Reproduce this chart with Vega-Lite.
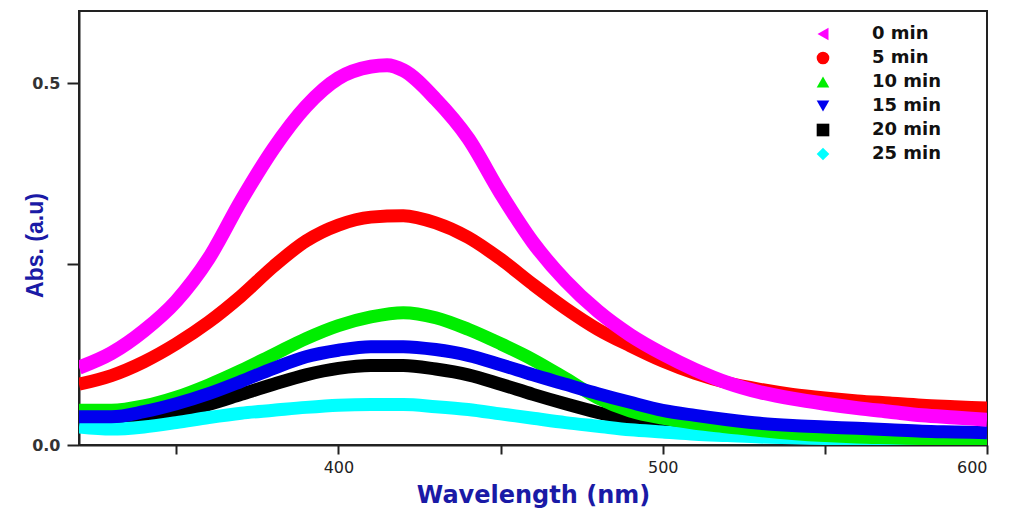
{
  "$schema": "https://vega.github.io/schema/vega-lite/v6.json",
  "width": 908,
  "height": 434,
  "autosize": {"type": "none"},
  "padding": {"left": 79, "top": 11, "right": 22, "bottom": 65},
  "background": "white",
  "config": {
    "view": {"stroke": "#222", "strokeWidth": 2},
    "axis": {"grid": false}
  },
  "datasets": {
    "spectra": [
      {"s":"25 min","x":320,"y":0.025},{"s":"25 min","x":330,"y":0.022},{"s":"25 min","x":340,"y":0.025},{"s":"25 min","x":350,"y":0.031},{"s":"25 min","x":360,"y":0.038},{"s":"25 min","x":370,"y":0.044},{"s":"25 min","x":380,"y":0.048},{"s":"25 min","x":390,"y":0.052},{"s":"25 min","x":400,"y":0.055},{"s":"25 min","x":410,"y":0.056},{"s":"25 min","x":420,"y":0.056},{"s":"25 min","x":430,"y":0.053},{"s":"25 min","x":440,"y":0.049},{"s":"25 min","x":450,"y":0.043},{"s":"25 min","x":460,"y":0.037},{"s":"25 min","x":470,"y":0.031},{"s":"25 min","x":480,"y":0.026},{"s":"25 min","x":490,"y":0.021},{"s":"25 min","x":500,"y":0.018},{"s":"25 min","x":510,"y":0.015},{"s":"25 min","x":520,"y":0.013},{"s":"25 min","x":530,"y":0.011},{"s":"25 min","x":540,"y":0.010},{"s":"25 min","x":550,"y":0.009},{"s":"25 min","x":560,"y":0.008},{"s":"25 min","x":570,"y":0.008},{"s":"25 min","x":580,"y":0.007},{"s":"25 min","x":590,"y":0.007},{"s":"25 min","x":600,"y":0.007},
      {"s":"20 min","x":320,"y":0.039},{"s":"20 min","x":330,"y":0.036},{"s":"20 min","x":340,"y":0.039},{"s":"20 min","x":350,"y":0.046},{"s":"20 min","x":360,"y":0.056},{"s":"20 min","x":370,"y":0.070},{"s":"20 min","x":380,"y":0.084},{"s":"20 min","x":390,"y":0.097},{"s":"20 min","x":400,"y":0.106},{"s":"20 min","x":410,"y":0.110},{"s":"20 min","x":420,"y":0.110},{"s":"20 min","x":430,"y":0.105},{"s":"20 min","x":440,"y":0.097},{"s":"20 min","x":450,"y":0.084},{"s":"20 min","x":460,"y":0.070},{"s":"20 min","x":470,"y":0.057},{"s":"20 min","x":480,"y":0.045},{"s":"20 min","x":490,"y":0.035},{"s":"20 min","x":500,"y":0.029},{"s":"20 min","x":510,"y":0.024},{"s":"20 min","x":520,"y":0.020},{"s":"20 min","x":530,"y":0.017},{"s":"20 min","x":540,"y":0.014},{"s":"20 min","x":550,"y":0.012},{"s":"20 min","x":560,"y":0.010},{"s":"20 min","x":570,"y":0.009},{"s":"20 min","x":580,"y":0.008},{"s":"20 min","x":590,"y":0.007},{"s":"20 min","x":600,"y":0.007},
      {"s":"15 min","x":320,"y":0.039},{"s":"15 min","x":330,"y":0.039},{"s":"15 min","x":340,"y":0.046},{"s":"15 min","x":350,"y":0.057},{"s":"15 min","x":360,"y":0.071},{"s":"15 min","x":370,"y":0.088},{"s":"15 min","x":380,"y":0.106},{"s":"15 min","x":390,"y":0.122},{"s":"15 min","x":400,"y":0.131},{"s":"15 min","x":410,"y":0.136},{"s":"15 min","x":420,"y":0.136},{"s":"15 min","x":430,"y":0.132},{"s":"15 min","x":440,"y":0.124},{"s":"15 min","x":450,"y":0.111},{"s":"15 min","x":460,"y":0.097},{"s":"15 min","x":470,"y":0.084},{"s":"15 min","x":480,"y":0.071},{"s":"15 min","x":490,"y":0.059},{"s":"15 min","x":500,"y":0.048},{"s":"15 min","x":510,"y":0.041},{"s":"15 min","x":520,"y":0.035},{"s":"15 min","x":530,"y":0.030},{"s":"15 min","x":540,"y":0.027},{"s":"15 min","x":550,"y":0.025},{"s":"15 min","x":560,"y":0.023},{"s":"15 min","x":570,"y":0.021},{"s":"15 min","x":580,"y":0.019},{"s":"15 min","x":590,"y":0.018},{"s":"15 min","x":600,"y":0.017},
      {"s":"10 min","x":320,"y":0.048},{"s":"10 min","x":330,"y":0.048},{"s":"10 min","x":340,"y":0.054},{"s":"10 min","x":350,"y":0.066},{"s":"10 min","x":360,"y":0.083},{"s":"10 min","x":370,"y":0.103},{"s":"10 min","x":380,"y":0.125},{"s":"10 min","x":390,"y":0.147},{"s":"10 min","x":400,"y":0.165},{"s":"10 min","x":410,"y":0.177},{"s":"10 min","x":420,"y":0.183},{"s":"10 min","x":430,"y":0.176},{"s":"10 min","x":440,"y":0.160},{"s":"10 min","x":450,"y":0.140},{"s":"10 min","x":460,"y":0.118},{"s":"10 min","x":470,"y":0.092},{"s":"10 min","x":480,"y":0.065},{"s":"10 min","x":490,"y":0.047},{"s":"10 min","x":500,"y":0.037},{"s":"10 min","x":510,"y":0.030},{"s":"10 min","x":520,"y":0.025},{"s":"10 min","x":530,"y":0.020},{"s":"10 min","x":540,"y":0.016},{"s":"10 min","x":550,"y":0.013},{"s":"10 min","x":560,"y":0.011},{"s":"10 min","x":570,"y":0.010},{"s":"10 min","x":580,"y":0.009},{"s":"10 min","x":590,"y":0.008},{"s":"10 min","x":600,"y":0.008},
      {"s":"5 min","x":320,"y":0.084},{"s":"5 min","x":330,"y":0.096},{"s":"5 min","x":340,"y":0.115},{"s":"5 min","x":350,"y":0.140},{"s":"5 min","x":360,"y":0.170},{"s":"5 min","x":370,"y":0.206},{"s":"5 min","x":380,"y":0.247},{"s":"5 min","x":390,"y":0.282},{"s":"5 min","x":400,"y":0.304},{"s":"5 min","x":410,"y":0.315},{"s":"5 min","x":420,"y":0.317},{"s":"5 min","x":430,"y":0.307},{"s":"5 min","x":440,"y":0.287},{"s":"5 min","x":450,"y":0.257},{"s":"5 min","x":460,"y":0.222},{"s":"5 min","x":470,"y":0.189},{"s":"5 min","x":480,"y":0.160},{"s":"5 min","x":490,"y":0.137},{"s":"5 min","x":500,"y":0.116},{"s":"5 min","x":510,"y":0.099},{"s":"5 min","x":520,"y":0.086},{"s":"5 min","x":530,"y":0.077},{"s":"5 min","x":540,"y":0.070},{"s":"5 min","x":550,"y":0.065},{"s":"5 min","x":560,"y":0.061},{"s":"5 min","x":570,"y":0.058},{"s":"5 min","x":580,"y":0.055},{"s":"5 min","x":590,"y":0.053},{"s":"5 min","x":600,"y":0.051},
      {"s":"0 min","x":320,"y":0.107},{"s":"0 min","x":330,"y":0.127},{"s":"0 min","x":340,"y":0.158},{"s":"0 min","x":350,"y":0.199},{"s":"0 min","x":360,"y":0.258},{"s":"0 min","x":370,"y":0.338},{"s":"0 min","x":380,"y":0.410},{"s":"0 min","x":390,"y":0.468},{"s":"0 min","x":400,"y":0.507},{"s":"0 min","x":410,"y":0.523},{"s":"0 min","x":415,"y":0.525},{"s":"0 min","x":420,"y":0.518},{"s":"0 min","x":430,"y":0.478},{"s":"0 min","x":440,"y":0.424},{"s":"0 min","x":450,"y":0.348},{"s":"0 min","x":460,"y":0.280},{"s":"0 min","x":470,"y":0.227},{"s":"0 min","x":480,"y":0.185},{"s":"0 min","x":490,"y":0.152},{"s":"0 min","x":500,"y":0.126},{"s":"0 min","x":510,"y":0.104},{"s":"0 min","x":520,"y":0.086},{"s":"0 min","x":530,"y":0.073},{"s":"0 min","x":540,"y":0.064},{"s":"0 min","x":550,"y":0.057},{"s":"0 min","x":560,"y":0.051},{"s":"0 min","x":570,"y":0.046},{"s":"0 min","x":580,"y":0.041},{"s":"0 min","x":590,"y":0.038},{"s":"0 min","x":600,"y":0.035}
    ]
  },
  "data": {"name": "spectra"},
  "encoding": {
    "x": {
      "field": "x", "type": "quantitative",
      "scale": {"domain": [320, 600], "nice": false, "zero": false},
      "axis": {
        "values": [350, 400, 450, 500, 550, 600],
        "labelExpr": "datum.value % 100 == 0 ? datum.label : ''",
        "title": "Wavelength (nm)",
        "domainColor": "#222", "domainWidth": 2,
        "tickColor": "#222", "tickWidth": 2, "tickSize": 9,
        "labelFont": "DejaVu Sans", "labelFontSize": 16, "labelColor": "#222", "labelPadding": 5,
        "titleFont": "DejaVu Sans", "titleFontSize": 24, "titleFontWeight": "bold", "titleColor": "#1a1aa6", "titlePadding": 8
      }
    },
    "y": {
      "field": "y", "type": "quantitative",
      "scale": {"domain": [0, 0.6], "nice": false},
      "axis": {
        "values": [0, 0.25, 0.5],
        "labelExpr": "datum.value == 0.25 ? '' : format(datum.value, '.1f')",
        "title": "Abs. (a.u)",
        "domainColor": "#222", "domainWidth": 2,
        "tickColor": "#222", "tickWidth": 2, "tickSize": 12,
        "labelFont": "DejaVu Sans", "labelFontSize": 16, "labelFontWeight": "bold", "labelColor": "#333", "labelPadding": 7,
        "titleFont": "Liberation Sans Narrow, Liberation Sans", "titleFontSize": 23, "titleFontWeight": "bold", "titleColor": "#1a1aa6",
        "titleX": -44, "titleY": 234, "titleAlign": "center", "titleBaseline": "middle", "titleAngle": 270
      }
    },
    "color": {
      "field": "s", "type": "nominal",
      "scale": {
        "domain": ["0 min", "5 min", "10 min", "15 min", "20 min", "25 min"],
        "range": ["#ff00ff", "#ff0000", "#00ee00", "#0000ee", "#000000", "#00ffff"]
      },
      "legend": {
        "orient": "none", "legendX": 735, "legendY": 14, "title": null, "padding": 0,
        "symbolSize": 160, "symbolOpacity": 1, "symbolStrokeWidth": 0,
        "labelFont": "DejaVu Sans", "labelFontWeight": "bold", "labelFontSize": 18, "labelColor": "#111",
        "labelOffset": 40, "rowPadding": 6
      }
    }
  },
  "layer": [
    {"transform": [{"filter": "datum.s == '20 min'"}], "mark": {"type": "line", "strokeWidth": 13, "interpolate": "monotone", "clip": true}},
    {"transform": [{"filter": "datum.s == '25 min'"}], "mark": {"type": "line", "strokeWidth": 13, "interpolate": "monotone", "clip": true}},
    {"transform": [{"filter": "datum.s == '10 min'"}], "mark": {"type": "line", "strokeWidth": 13, "interpolate": "monotone", "clip": true}},
    {"transform": [{"filter": "datum.s == '15 min'"}], "mark": {"type": "line", "strokeWidth": 13, "interpolate": "monotone", "clip": true}},
    {"transform": [{"filter": "datum.s == '5 min'"}], "mark": {"type": "line", "strokeWidth": 13, "interpolate": "monotone", "clip": true}},
    {"transform": [{"filter": "datum.s == '0 min'"}], "mark": {"type": "line", "strokeWidth": 14, "interpolate": "monotone", "clip": true}},
    {
      "mark": {"type": "point", "filled": true, "opacity": 0, "clip": true},
      "encoding": {
        "shape": {
          "field": "s", "type": "nominal",
          "scale": {
            "domain": ["0 min", "5 min", "10 min", "15 min", "20 min", "25 min"],
            "range": ["triangle-left", "circle", "triangle-up", "triangle-down", "square", "diamond"]
          },
          "legend": {
            "orient": "none", "legendX": 735, "legendY": 14, "title": null, "padding": 0,
            "symbolSize": 160, "symbolOpacity": 1, "symbolStrokeWidth": 0,
            "labelFont": "DejaVu Sans", "labelFontWeight": "bold", "labelFontSize": 18, "labelColor": "#111",
            "labelOffset": 40, "rowPadding": 6
          }
        }
      }
    }
  ]
}
